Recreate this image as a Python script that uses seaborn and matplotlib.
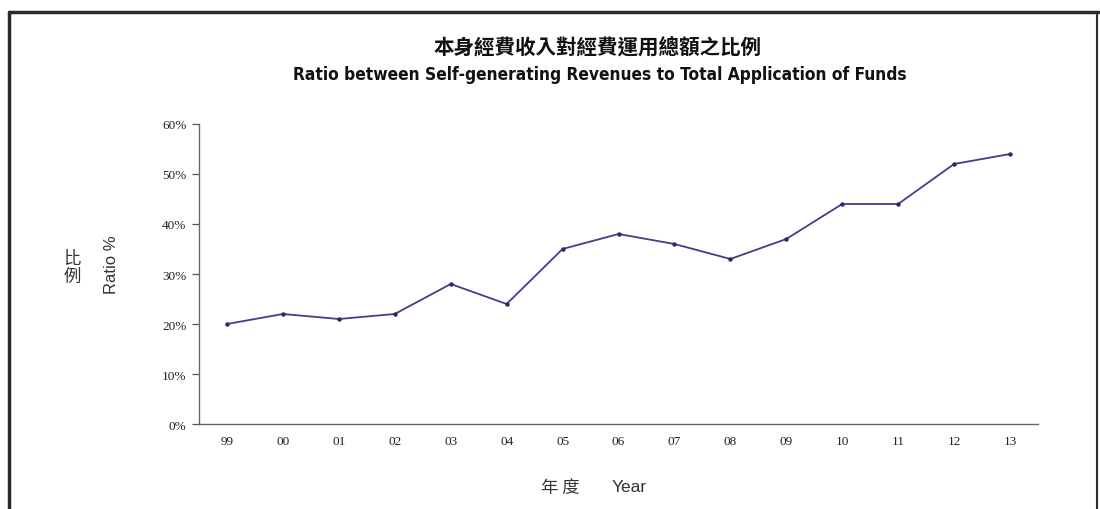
import matplotlib
matplotlib.use("Agg")
import matplotlib.pyplot as plt
from matplotlib import font_manager
from matplotlib.lines import Line2D
from matplotlib.ticker import FixedLocator, NullFormatter, PercentFormatter
import pandas as pd
import seaborn as sns

# Fiscal years and the share of self-generated revenue (%)
years = ["99", "00", "01", "02", "03", "04", "05", "06", "07", "08", "09", "10", "11", "12", "13"]
ratio = [20, 22, 21, 22, 28, 24, 35, 38, 36, 33, 37, 44, 44, 52, 54]
y_ticks = [0, 10, 20, 30, 40, 50, 60]

title_zh = "本身經費收入對經費運用總額之比例"
title_en = "Ratio between Self-generating Revenues to Total Application of Funds"
ylabel_zh = "比\n例"
ylabel_en = "Ratio %"
xlabel_zh = "年 度"
xlabel_en = "Year"

sns.set_theme(style="white")
available = {f.name for f in font_manager.fontManager.ttflist}
narrow = "Liberation Sans Narrow" if "Liberation Sans Narrow" in available else "DejaVu Sans"
plt.rcParams["font.family"] = ["Noto Sans CJK TC", "DejaVu Sans"]

df = pd.DataFrame({"year": years, "ratio": ratio})
df["pos"] = range(len(years))

fig = plt.figure(figsize=(11, 5.1), dpi=100)
ax = fig.add_axes([199 / 1100, 1 - 425 / 510, (1038 - 199) / 1100, 300 / 510])

sns.lineplot(data=df, x="pos", y="ratio", ax=ax, color="#3f3f8c", linewidth=1.3,
             marker="o", markersize=3.2, markeredgewidth=0, markerfacecolor="#2a2a6a")

ax.set_xlim(-0.5, len(years) - 0.5)
ax.set_ylim(0, 60)

# Category axis: tick marks sit between years, labels sit on the years
ax.xaxis.set_major_locator(FixedLocator([i + 0.5 for i in range(len(years))]))
ax.xaxis.set_major_formatter(NullFormatter())
ax.set_xticks(range(len(years)), years, minor=True)
ax.tick_params(axis="x", which="major", direction="in", length=4, width=0.9, color="#555555")
ax.tick_params(axis="x", which="minor", length=0, pad=8)

ax.set_yticks(y_ticks)
ax.yaxis.set_major_formatter(PercentFormatter(decimals=0))
ax.tick_params(axis="y", direction="out", length=5, width=0.9, color="#555555", pad=4, left=True)

for lbl in ax.get_xticklabels(minor=True) + ax.get_yticklabels():
    lbl.set_fontfamily("Liberation Serif")
    lbl.set_fontsize(9.5)
    lbl.set_color("#222222")

sns.despine(ax=ax)
for side in ("left", "bottom"):
    ax.spines[side].set_color("#666666")
    ax.spines[side].set_linewidth(1.0)
ax.set_xlabel("")
ax.set_ylabel("")
ax.grid(False)

# Titles
fig.text(597 / 1100, 1 - 47 / 510, title_zh, ha="center", va="center",
         fontsize=14.8, fontweight="bold", color="#111111",
         family=["Noto Sans CJK TC", "DejaVu Sans"])
fig.text(600 / 1100, 1 - 75 / 510, title_en, ha="center", va="center",
         fontsize=12.4, fontweight="bold", color="#111111",
         family=[narrow, "DejaVu Sans"], stretch="condensed")

# Axis labels
fig.text(72 / 1100, 1 - 268 / 510, ylabel_zh, ha="center", va="center",
         fontsize=12.5, color="#333333", linespacing=1.0,
         family=["Noto Sans CJK TC", "DejaVu Sans"])
fig.text(112 / 1100, 1 - 265 / 510, ylabel_en, ha="center", va="center",
         rotation=90, fontsize=12, color="#333333", family=["Liberation Sans"])
fig.text(560 / 1100, 1 - 488 / 510, xlabel_zh, ha="center", va="center",
         fontsize=12.5, color="#333333", family=["Noto Sans CJK TC", "DejaVu Sans"])
fig.text(629 / 1100, 1 - 488 / 510, xlabel_en, ha="center", va="center",
         fontsize=12.5, color="#333333", family=["Liberation Sans"])

# Frame around the chart (open at the bottom)
frame_color = "#2b2b2b"
fig.add_artist(Line2D([9 / 1100, 9 / 1100], [0, 1 - 13 / 510], transform=fig.transFigure,
                      color=frame_color, linewidth=2.5))
fig.add_artist(Line2D([9 / 1100, 1], [1 - 13 / 510, 1 - 13 / 510], transform=fig.transFigure,
                      color=frame_color, linewidth=2.5))
fig.add_artist(Line2D([1097 / 1100, 1097 / 1100], [0, 1 - 13 / 510], transform=fig.transFigure,
                      color=frame_color, linewidth=1.5))

fig.savefig("out.png", dpi=100, facecolor="white")
